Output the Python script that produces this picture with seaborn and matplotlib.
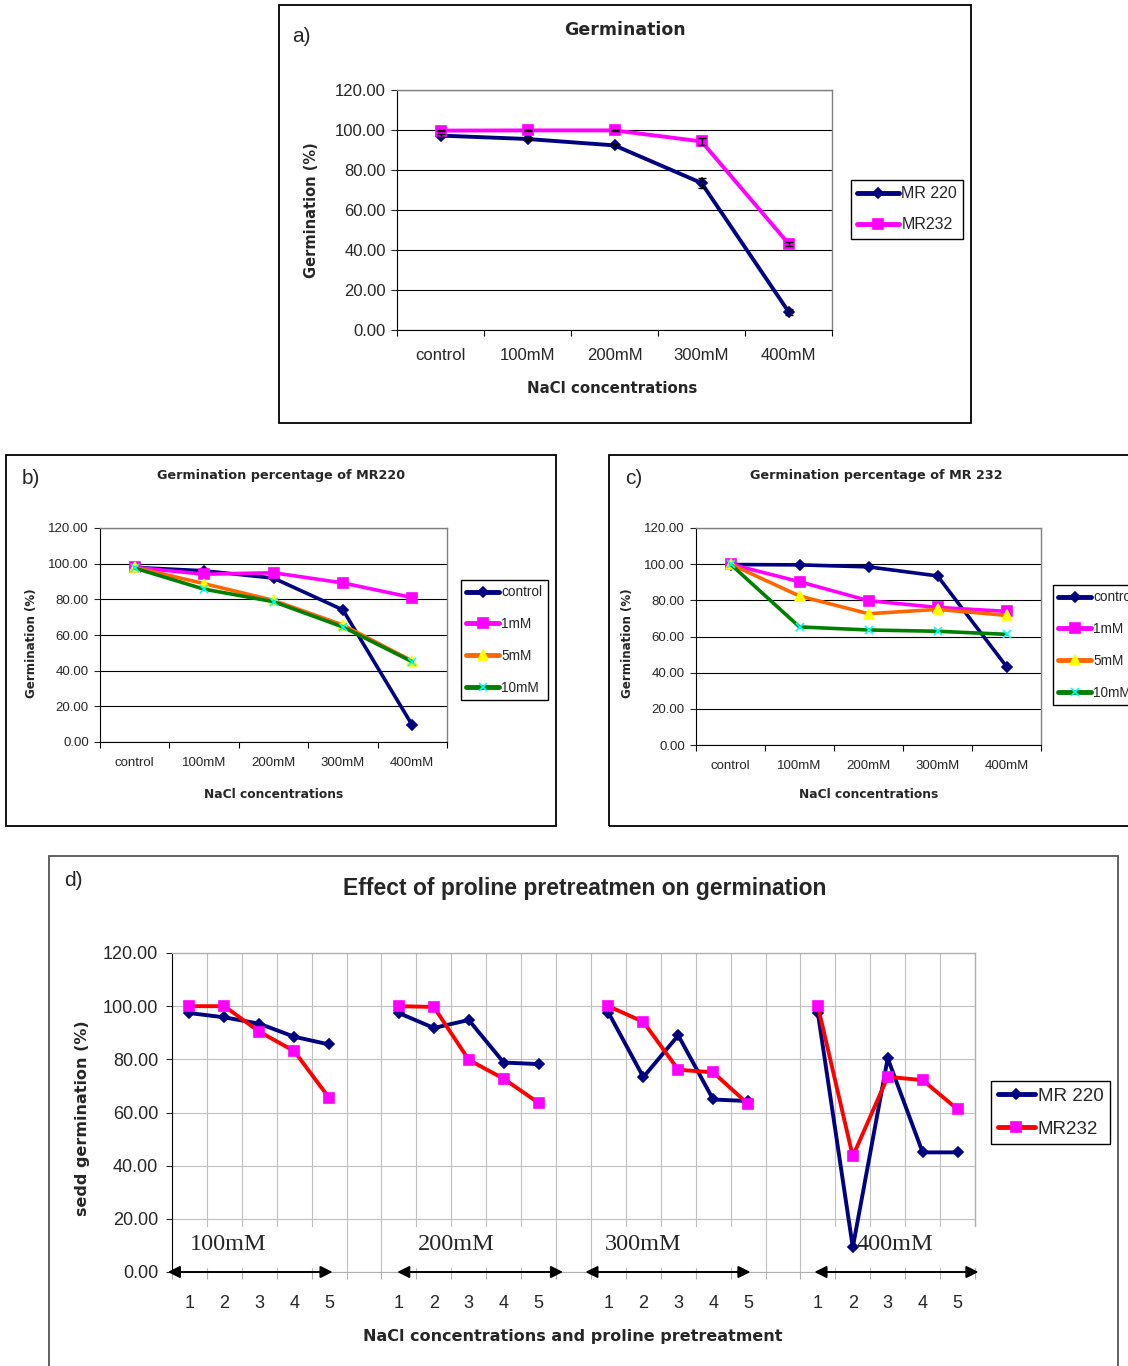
import numpy as np
import seaborn as sns
import matplotlib.pyplot as plt
from matplotlib.patches import Rectangle
from matplotlib.ticker import FormatStrFormatter, NullFormatter

# ---- data ----
concentrations = ["control", "100mM", "200mM", "300mM", "400mM"]
varieties = ["MR 220", "MR232"]
a_mr220 = [97.2, 95.5, 92.3, 73.5, 9.2]
a_mr232 = [99.7, 99.8, 99.8, 94.3, 43.2]
a_mr220_err = [0.6, 0.6, 0.8, 2.5, 1.5]
a_mr232_err = [0.3, 0.3, 0.3, 1.8, 1.0]

proline_levels = ["control", "1mM", "5mM", "10mM"]
b_control = [97.9, 96.0, 91.9, 74.1, 9.4]
b_1mM = [97.9, 94.1, 94.9, 89.2, 81.0]
b_5mM = [97.9, 88.8, 79.4, 65.6, 45.4]
b_10mM = [97.5, 85.7, 78.7, 64.5, 45.0]

c_control = [99.8, 99.6, 98.5, 93.5, 43.4]
c_1mM = [100.0, 90.3, 79.8, 76.1, 73.9]
c_5mM = [100.0, 82.4, 72.6, 75.0, 71.7]
c_10mM = [100.0, 65.3, 63.6, 62.9, 61.2]

d_groups = ["100mM", "200mM", "300mM", "400mM"]
d_pretreat = ["1", "2", "3", "4", "5"]
d_mr220 = [[97.4, 95.8, 93.4, 88.5, 85.6],
           [97.4, 91.8, 94.8, 78.8, 78.2],
           [97.6, 73.3, 89.0, 64.9, 64.3],
           [97.4, 9.3, 80.4, 45.0, 45.0]]
d_mr232 = [[100.0, 100.0, 90.4, 83.1, 65.5],
           [100.0, 99.7, 79.8, 72.7, 63.6],
           [100.0, 94.1, 76.1, 75.1, 63.2],
           [100.0, 43.5, 73.4, 72.2, 61.2]]

W, H = 1128, 1366
NAVY, MAGENTA, ORANGE, YELLOW = "#000080", "#FF00FF", "#FF6600", "#FFFF00"
GREEN, CYAN, RED = "#008000", "#00FFFF", "#FF0000"

sns.set_style("ticks")
plt.rcParams["font.family"] = ["Liberation Sans", "DejaVu Sans"]

fig = plt.figure(figsize=(W / 100, H / 100), dpi=100)


def fx(px):
    return px / W


def fy(py):
    return 1 - py / H


def box(x0, y0, x1, y1):
    return [fx(x0), fy(y1), fx(x1) - fx(x0), fy(y0) - fy(y1)]


def frame(x0, y0, x1, y1, color="black"):
    fig.patches.append(Rectangle((fx(x0), fy(y1)), fx(x1) - fx(x0), fy(y0) - fy(y1),
                                 transform=fig.transFigure, fill=False,
                                 edgecolor=color, lw=1.3))


def setup(ax, labels, size, xpad, ypad, grid_color, border_color):
    n = len(labels)
    ax.set_xlim(-0.5, n - 0.5)
    ax.set_ylim(0, 120)
    ax.set_yticks(np.arange(0, 121, 20))
    ax.yaxis.set_major_formatter(FormatStrFormatter("%.2f"))
    ax.set_xticks(np.arange(n + 1) - 0.5)
    ax.xaxis.set_major_formatter(NullFormatter())
    ax.set_xticks(np.arange(n), minor=True)
    ax.set_xticklabels(labels, minor=True)
    ax.tick_params(axis="x", which="minor", length=0, pad=xpad, labelsize=size, bottom=True)
    ax.tick_params(axis="x", which="major", length=4, direction="out", bottom=True,
                   color="black")
    ax.tick_params(axis="y", length=4, direction="out", pad=ypad, labelsize=size, left=True)
    ax.grid(True, axis="y", color=grid_color, lw=0.8)
    ax.set_axisbelow(True)
    ax.set_xlabel("")
    ax.set_ylabel("")
    for side in ["top", "right"]:
        ax.spines[side].set_visible(True)
        ax.spines[side].set_color(border_color)
        ax.spines[side].set_linewidth(1.0)
    ax.spines["left"].set_color("black")
    ax.spines["bottom"].set_color("black")


def draw(ax, x, y, color, marker, mfc, mec, ms, lw, label):
    sns.lineplot(x=x, y=y, ax=ax, color=color, lw=lw, marker=marker, markersize=ms,
                 markerfacecolor=mfc, markeredgecolor=mec, markeredgewidth=1.2,
                 label=label, zorder=4, estimator=None)


def legend(ax, x, y, size, spacing, hlen, bpad):
    leg = ax.legend(loc="upper left", bbox_to_anchor=(fx(x), fy(y)),
                    bbox_transform=fig.transFigure, borderaxespad=0, fontsize=size,
                    frameon=True, fancybox=False, edgecolor="black", framealpha=1,
                    labelspacing=spacing, handlelength=hlen, handletextpad=0.15,
                    borderpad=bpad, numpoints=1)
    leg.get_frame().set_linewidth(1.0)
    for line in leg.get_lines():
        line.set_linewidth(3.5)


bold = dict(family=["DejaVu Sans"], fontweight="bold")
idx = np.arange(len(concentrations))

# ---- a) ----
frame(279, 5, 971, 423)
ax = fig.add_axes(box(397, 90, 832, 330))
draw(ax, idx, a_mr220, NAVY, "D", NAVY, NAVY, 5, 2.8, varieties[0])
draw(ax, idx, a_mr232, MAGENTA, "s", MAGENTA, MAGENTA, 6.5, 2.8, varieties[1])
ax.errorbar(idx, a_mr220, yerr=a_mr220_err, fmt="none", ecolor="black", capsize=3,
            elinewidth=1, zorder=5)
ax.errorbar(idx, a_mr232, yerr=a_mr232_err, fmt="none", ecolor="black", capsize=3,
            elinewidth=1, zorder=5)
setup(ax, concentrations, 12, 13, 4, "black", "#808080")
legend(ax, 851, 180, 11.5, 1.0, 2.6, 0.4)
fig.text(fx(292), fy(36), "a)", fontsize=15, va="center", ha="left")
fig.text(fx(625), fy(30), "Germination", fontsize=12.5, ha="center", va="center", **bold)
fig.text(fx(612), fy(388), "NaCl concentrations", fontsize=10.8, ha="center", va="center", **bold)
fig.text(fx(312), fy(210), "Germination (%)", fontsize=10.5, rotation=90, ha="center",
         va="center", **bold)

# ---- b) and c) ----
panels = [
    (6, 556, 100, 447, 528, 742, "b)", "Germination percentage of MR220",
     [b_control, b_1mM, b_5mM, b_10mM], 461, 580),
    (609, 1140, 696, 1041, 528, 745, "c)", "Germination percentage of MR 232",
     [c_control, c_1mM, c_5mM, c_10mM], 1053, 585),
]
styles = [(NAVY, "D", NAVY, NAVY, 5), (MAGENTA, "s", MAGENTA, MAGENTA, 6.5),
          (ORANGE, "^", YELLOW, YELLOW, 7), (GREEN, "x", CYAN, CYAN, 6)]
for fx0, fx1, px0, px1, py0, py1, tag, title, series, lx, ly in panels:
    frame(fx0, 455, fx1, 826)
    ax = fig.add_axes(box(px0, py0, px1, py1))
    for vals, name, (col, mk, mfc, mec, ms) in zip(series, proline_levels, styles):
        draw(ax, idx, vals, col, mk, mfc, mec, ms, 2.6, name)
    setup(ax, concentrations, 9.5, 11, 4, "black", "#808080")
    legend(ax, lx, ly, 9.8, 1.3, 2.4, 0.4)
    mid = (px0 + px1) / 2
    fig.text(fx(fx0 + 25), fy(478), tag, fontsize=15, va="center", ha="center")
    fig.text(fx(mid + 8), fy(476), title, fontsize=9.2, ha="center", va="center", **bold)
    fig.text(fx(mid), fy(795), "NaCl concentrations", fontsize=8.8, ha="center",
             va="center", **bold)
    fig.text(fx(px0 - 68), fy(643), "Germination (%)", fontsize=8.6, rotation=90,
             ha="center", va="center", **bold)

# ---- d) ----
frame(49, 856, 1118, 1380, color="#555555")
ax = fig.add_axes(box(172, 953, 975, 1272))
step = len(d_pretreat) + 1
d_labels = []
for gi in range(len(d_groups)):
    d_labels += d_pretreat
    if gi < len(d_groups) - 1:
        d_labels.append("")
for gi in range(len(d_groups)):
    pos = gi * step + np.arange(len(d_pretreat))
    draw(ax, pos, d_mr220[gi], NAVY, "D", NAVY, NAVY, 5, 2.8,
         varieties[0] if gi == 0 else None)
    draw(ax, pos, d_mr232[gi], RED, "s", MAGENTA, MAGENTA, 7, 2.8,
         varieties[1] if gi == 0 else None)
setup(ax, d_labels, 13, 16.5, 6, "#C0C0C0", "#B0B0B0")
ax.grid(True, axis="x", which="major", color="#C0C0C0", lw=0.8)
ax.spines["bottom"].set_color("#B0B0B0")
ax.tick_params(axis="x", which="major", color="#B0B0B0", length=5)

# white label bands, serif group labels and double arrows
bands = [(-0.45, 4.45), (5.6, 10.45), (11.6, 16.45), (17.6, 22.65)]
arrows = [(-0.62, 4.1), (5.95, 10.7), (11.34, 16.07), (17.9, 22.6)]
text_x = [0.02, 6.55, 11.9, 19.1]
for name, (b0, b1), (a0, a1), tx in zip(d_groups, bands, arrows, text_x):
    ax.add_patch(Rectangle((b0, 1.5), b1 - b0, 15.5, facecolor="white", edgecolor="none",
                           zorder=3, clip_on=False))
    ax.text(tx, 10.2, name, family=["Liberation Serif"], fontsize=17.5, ha="left",
            va="center", zorder=5)
    ax.annotate("", xy=(a1, 0), xytext=(a0, 0),
                arrowprops=dict(arrowstyle="<|-|>", color="black", lw=1.4,
                                mutation_scale=18, shrinkA=0, shrinkB=0),
                annotation_clip=False, zorder=5)
legend(ax, 991, 1081, 13.5, 0.85, 2.0, 0.35)
fig.text(fx(73), fy(880), "d)", fontsize=15, va="center", ha="center")
fig.text(fx(585), fy(888), "Effect of proline pretreatmen on germination", fontsize=16.5,
         fontweight="bold", ha="center", va="center")
fig.text(fx(573), fy(1336), "NaCl concentrations and proline pretreatment", fontsize=11.5,
         ha="center", va="center", **bold)
fig.text(fx(82), fy(1118), "sedd germination (%)", fontsize=11.5, rotation=90,
         ha="center", va="center", **bold)

fig.savefig("out.png", dpi=100)
